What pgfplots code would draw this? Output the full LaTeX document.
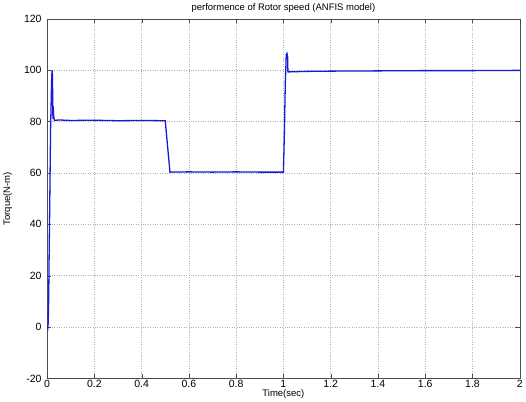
\documentclass[border=0pt]{standalone}
\usepackage{fontspec}
\setmainfont{Liberation Sans}
\usepackage{pgfplots}
\pgfplotsset{compat=1.18}
\definecolor{mblue}{rgb}{0.1,0.1,0.85}
\begin{document}
\begin{tikzpicture}
\begin{axis}[
  scale only axis,
  width=473pt, height=360pt,
  xmin=0, xmax=2, ymin=-20, ymax=120,
  xtick={0,0.2,...,2}, ytick={-20,0,...,120},
  xticklabels={0,0.2,0.4,0.6,0.8,1,1.2,1.4,1.6,1.8,2},
  grid=major,
  major grid style={gray!60, dotted},
  tick align=inside,
  tick style={black!70},
  axis line style={black!70},
  ticklabel style={font=\fontsize{10.5}{11}\selectfont},
  xticklabel style={yshift=2pt},
  yticklabel style={xshift=-2pt},
  /pgf/number format/assume math mode=true,
  title={performence of Rotor speed (ANFIS model)},
  title style={font=\fontsize{9.5}{10}\selectfont, yshift=-3pt},
  xlabel={Time(sec)},
  ylabel={Torque(N-m)},
  label style={font=\fontsize{9.5}{10}\selectfont},
  xlabel style={yshift=5pt},
  ylabel style={yshift=5pt},
]
\addplot[mblue, line width=1.3pt] coordinates {
(0,0) (0.003,-0.5) (0.005,2) (0.007,12) (0.009,30) (0.011,45) (0.013,62)
(0.015,78) (0.017,86) (0.019,95) (0.021,100) (0.023,98) (0.024,85)
(0.025,81) (0.026,86) (0.028,82) (0.031,80.4) (0.05,80.6) (0.1,80.4)
(0.2,80.5) (0.3,80.3) (0.4,80.4) (0.5,80.3) (0.52,60.3) (0.6,60.4)
(0.7,60.3) (0.8,60.4) (0.9,60.3) (1.0,60.3) (1.004,75) (1.008,95)
(1.01,100) (1.012,106) (1.015,106.5) (1.018,105) (1.019,99.5) (1.02,99.3)
(1.1,99.5) (1.2,99.6) (1.4,99.7) (1.6,99.8) (1.8,99.8) (2,99.9)
};
\end{axis}
\end{tikzpicture}
\end{document}
